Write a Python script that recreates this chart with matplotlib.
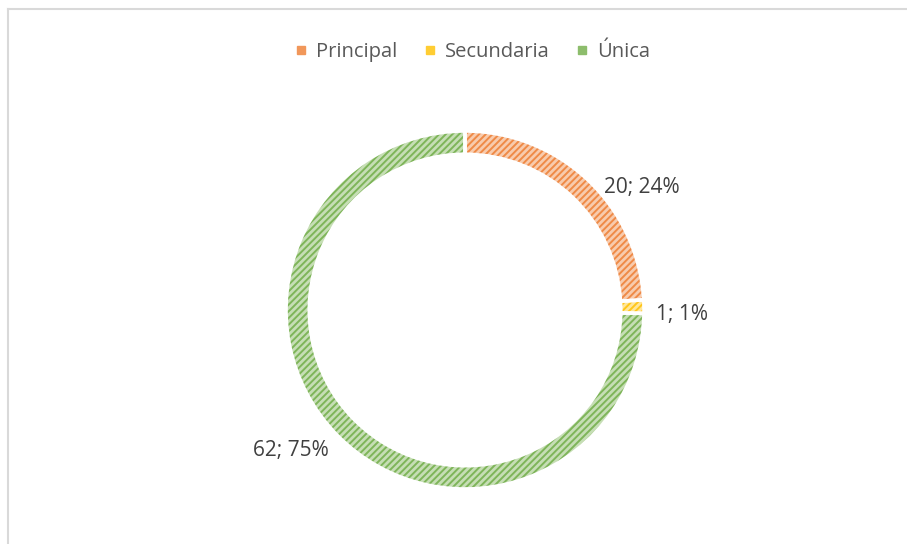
import matplotlib.pyplot as plt
import matplotlib.colors as mcolors
from matplotlib.lines import Line2D
import numpy as np

categorias = ['Principal', 'Secundaria', 'Única']
valores = [20, 1, 62]
colores = ['#ED7D31', '#FFC000', '#70AD47']

# where Excel put each data label: (angle in degrees, distance in radii)
pos_etiquetas = [(34.7, 1.20), (-1.3, 1.21), (218.8, 1.25)]

plt.rcParams['font.family'] = ['Open Sans', 'DejaVu Sans']
plt.rcParams['hatch.linewidth'] = 1.4

W, H = 907, 544
cx, cy, R = 465, 310, 179  # pixel centre / radius of the ring

fig = plt.figure(figsize=(W / 100, H / 100), dpi=100)
ax = fig.add_axes([0, 0, 1, 1])

def aclarar(c, f):
    r = np.array(mcolors.to_rgb(c))
    return tuple(r + (1 - r) * f)

ancho = 0.13
# hatched fill
wedges, _ = ax.pie(valores, startangle=90, counterclock=False, radius=1,
                   wedgeprops=dict(width=ancho, linewidth=0),
                   colors=[aclarar(c, 0.6) for c in colores])
for w, c in zip(wedges, colores):
    w.set_hatch('/////')
    w.set_edgecolor(aclarar(c, 0.1))
    w.set_linewidth(0)
# white separators on top
ax.pie(valores, startangle=90, counterclock=False, radius=1,
       wedgeprops=dict(width=ancho, linewidth=2.6, edgecolor='white', facecolor='none'))

ax.set_xlim(-cx / R, (W - cx) / R)
ax.set_ylim(-(H - cy) / R, cy / R)
ax.set_aspect('equal')
ax.axis('off')

total = sum(valores)
for v, (ang, dist) in zip(valores, pos_etiquetas):
    a = np.deg2rad(ang)
    ax.text(dist * np.cos(a), dist * np.sin(a), f'{v}; {round(100 * v / total)}%',
            ha='center', va='center', fontsize=15, color='#404040')

handles = [Line2D([], [], marker='s', linestyle='none', markersize=5.5,
                  markerfacecolor=aclarar(c, 0.2), markeredgecolor=aclarar(c, 0.2))
           for c in colores]
fig.legend(handles, categorias, loc='center', bbox_to_anchor=(472 / W, 1 - 52 / H),
           ncol=3, frameon=False, fontsize=14.5, labelcolor='#595959',
           handlelength=0.7, handletextpad=0.4, columnspacing=1.25)

# chart area border (only left and top edges fall inside the crop)
borde = dict(color='#D9D9D9', linewidth=1.5, transform=fig.transFigure)
fig.add_artist(Line2D([8 / W, 8 / W], [0, 1 - 9 / H], **borde))
fig.add_artist(Line2D([8 / W, 1], [1 - 9 / H, 1 - 9 / H], **borde))

fig.savefig('out.png', dpi=100)
